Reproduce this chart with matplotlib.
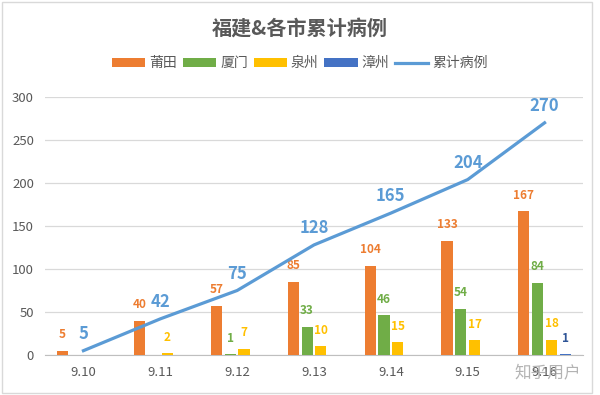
import numpy as np
import matplotlib
matplotlib.use("Agg")
from matplotlib import pyplot as plt
from matplotlib.patches import Rectangle

plt.rcParams['font.family'] = ['Noto Sans CJK SC', 'DejaVu Sans']

# data
dates = ["9.10", "9.11", "9.12", "9.13", "9.14", "9.15", "9.16"]
putian = [5, 40, 57, 85, 104, 133, 167]
xiamen = [0, 0, 1, 33, 46, 54, 84]
quanzhou = [0, 2, 7, 10, 15, 17, 18]
zhangzhou = [0, 0, 0, 0, 0, 0, 1]
total = [5, 42, 75, 128, 165, 204, 270]

series = [
    ("莆田", putian, "#ED7D31", "#ED7D31"),
    ("厦门", xiamen, "#70AD47", "#70AD47"),
    ("泉州", quanzhou, "#FFC000", "#FFC000"),
    ("漳州", zhangzhou, "#4472C4", "#2F5597"),
]
line_color = "#5B9BD5"
text_gray = "#595959"

fig = plt.figure(figsize=(6, 3.95), dpi=100)
ax = fig.add_axes([0.075, 0.1013, 0.8967, 0.6531])

x = np.arange(len(dates))
width = 0.145
offsets = [-0.27, -0.09, 0.09, 0.27]

for (name, vals, color, lab_color), off in zip(series, offsets):
    ax.bar(x + off, vals, width=width, color=color, label=name, zorder=3)
    for xi, v in zip(x, vals):
        if v > 0:
            ax.annotate(str(v), (xi + off, v), xytext=(0, 11.5), textcoords='offset points',
                        ha='center', va='center', fontsize=8.5, fontweight='bold',
                        color=lab_color)

ax.plot(x, total, color=line_color, linewidth=2.3, label="累计病例", zorder=4)
for xi, v in zip(x, total):
    ax.annotate(str(v), (xi, v), xytext=(0, 12), textcoords='offset points',
                ha='center', va='center', fontsize=12, fontweight='bold',
                color=line_color)

ax.set_xlim(-0.5, 6.5)
ax.set_ylim(0, 300)
ax.set_yticks(range(0, 301, 50))
ax.set_xticks(x)
ax.set_xticklabels(dates)
ax.tick_params(axis='both', length=0, labelsize=9.5, colors=text_gray)
ax.tick_params(axis='x', pad=8)
ax.tick_params(axis='y', pad=8)
ax.grid(axis='y', color='#D9D9D9', linewidth=0.9, zorder=0)
for s in ['top', 'right', 'left']:
    ax.spines[s].set_visible(False)
ax.spines['bottom'].set_color('#BFBFBF')

fig.suptitle("福建&各市累计病例", x=0.5, y=0.955, fontsize=14.5, fontweight='bold',
             color=text_gray)

handles, labels = ax.get_legend_handles_labels()
order = [1, 2, 3, 4, 0]
leg = fig.legend([handles[i] for i in order], [labels[i] for i in order],
                 loc='center', bbox_to_anchor=(0.5, 0.84), ncol=5, frameon=False,
                 fontsize=10, handlelength=2.4, handleheight=0.6, columnspacing=0.4,
                 handletextpad=0.3, labelcolor=text_gray)

# chart border
fig.patches.append(Rectangle((0.004, 0.004), 0.982, 0.99, transform=fig.transFigure,
                             fill=False, edgecolor='#D9D9D9', linewidth=1))

# watermark
fig.text(0.913, 0.056, "知乎用户", fontsize=12, color='#A0A0A0', ha='center',
         va='center', alpha=0.8)

fig.savefig("out.png", dpi=100, facecolor='white')
